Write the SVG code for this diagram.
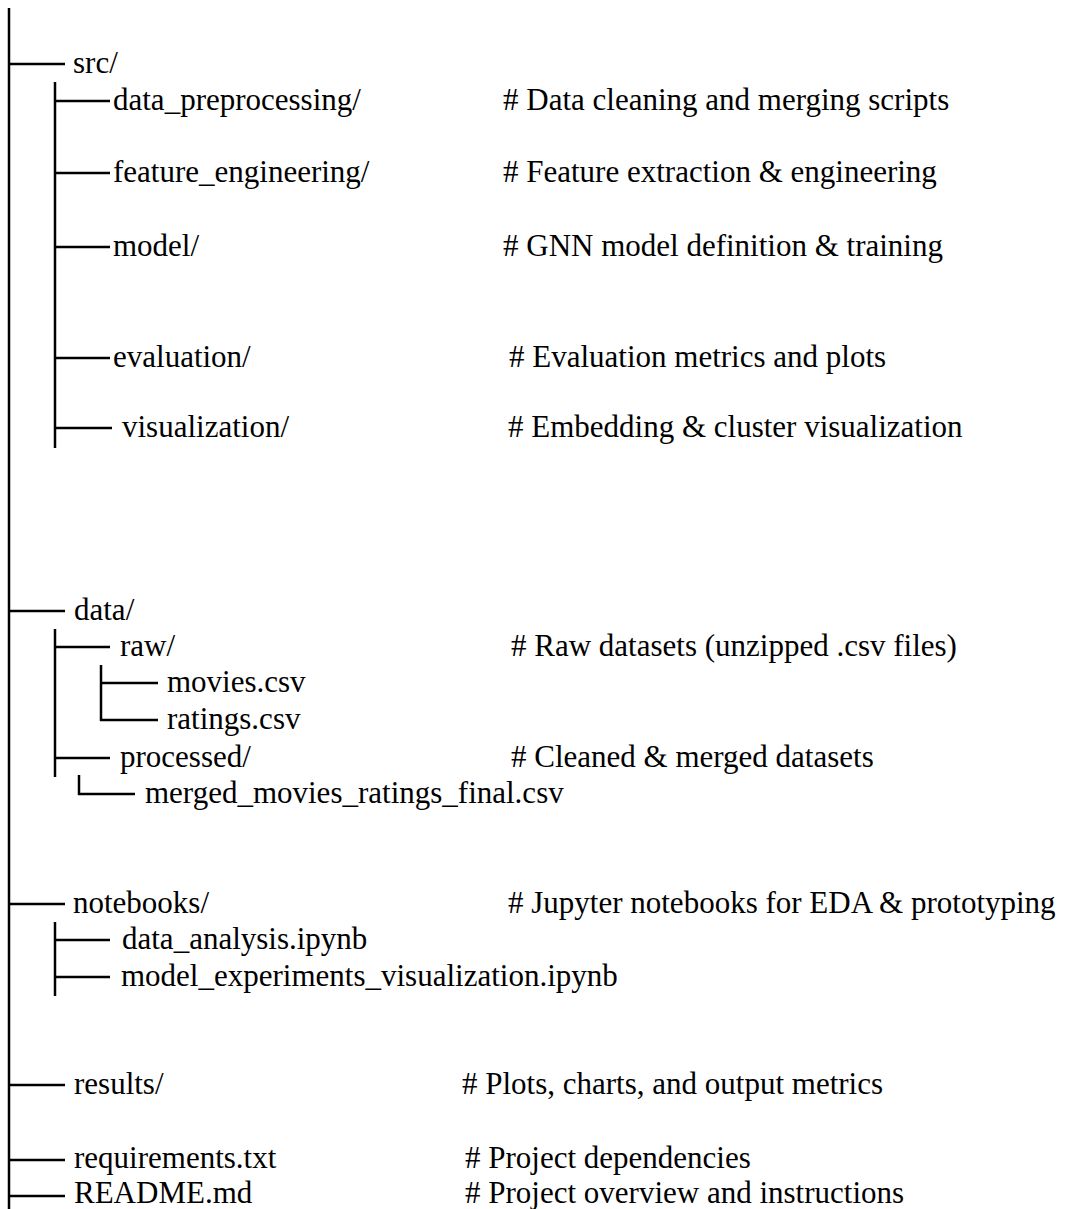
<svg xmlns="http://www.w3.org/2000/svg" width="1082" height="1209" viewBox="0 0 1082 1209">
<style>
.t text{font-size:31px;fill:#000}
.c line{stroke:#000;stroke-width:2.5}
</style>
<rect width="1082" height="1209" fill="#fff"/>
<g id="connectors" class="c">
<line x1="9" y1="8" x2="9" y2="1209"/>
<line x1="9" y1="64" x2="65" y2="64"/>
<line x1="55" y1="82" x2="55" y2="448"/>
<line x1="55" y1="101" x2="110" y2="101"/>
<line x1="55" y1="173" x2="110" y2="173"/>
<line x1="55" y1="247" x2="110" y2="247"/>
<line x1="55" y1="358" x2="110" y2="358"/>
<line x1="55" y1="428" x2="112" y2="428"/>
<line x1="9" y1="611" x2="65" y2="611"/>
<line x1="55" y1="629" x2="55" y2="777"/>
<line x1="55" y1="647" x2="110" y2="647"/>
<line x1="101" y1="665" x2="101" y2="721"/>
<line x1="101" y1="683" x2="158" y2="683"/>
<line x1="100" y1="720" x2="158" y2="720"/>
<line x1="55" y1="758" x2="110" y2="758"/>
<line x1="79" y1="775" x2="79" y2="795"/>
<line x1="78" y1="794" x2="135" y2="794"/>
<line x1="9" y1="904" x2="65" y2="904"/>
<line x1="55" y1="922" x2="55" y2="996"/>
<line x1="55" y1="940" x2="110" y2="940"/>
<line x1="55" y1="977" x2="110" y2="977"/>
<line x1="9" y1="1085" x2="65" y2="1085"/>
<line x1="9" y1="1160" x2="65" y2="1160"/>
<line x1="9" y1="1196" x2="65" y2="1196"/>
</g>
<g class="t" font-family="'Liberation Serif', 'DejaVu Serif', serif">
<g id="src"><text x="73" y="73">src/</text></g>
<g id="data_preprocessing"><text x="113" y="110">data_preprocessing/</text><text x="503" y="110"># Data cleaning and merging scripts</text></g>
<g id="feature_engineering"><text x="113" y="182">feature_engineering/</text><text x="503" y="182"># Feature extraction &amp; engineering</text></g>
<g id="model"><text x="113" y="256">model/</text><text x="503" y="256"># GNN model definition &amp; training</text></g>
<g id="evaluation"><text x="113" y="367">evaluation/</text><text x="509" y="367"># Evaluation metrics and plots</text></g>
<g id="visualization"><text x="122" y="437">visualization/</text><text x="508" y="437"># Embedding &amp; cluster visualization</text></g>
<g id="data"><text x="74" y="620">data/</text></g>
<g id="raw"><text x="120" y="656">raw/</text><text x="511" y="656"># Raw datasets (unzipped .csv files)</text></g>
<g id="movies"><text x="167" y="692">movies.csv</text></g>
<g id="ratings"><text x="167" y="729">ratings.csv</text></g>
<g id="processed"><text x="120" y="767">processed/</text><text x="511" y="767"># Cleaned &amp; merged datasets</text></g>
<g id="merged"><text x="145" y="803">merged_movies_ratings_final.csv</text></g>
<g id="notebooks"><text x="73" y="913">notebooks/</text><text x="508" y="913"># Jupyter notebooks for EDA &amp; prototyping</text></g>
<g id="data_analysis"><text x="122" y="949">data_analysis.ipynb</text></g>
<g id="model_experiments"><text x="121" y="986">model_experiments_visualization.ipynb</text></g>
<g id="results"><text x="74" y="1094">results/</text><text x="462" y="1094"># Plots, charts, and output metrics</text></g>
<g id="requirements"><text x="74" y="1168">requirements.txt</text><text x="465" y="1168"># Project dependencies</text></g>
<g id="readme"><text x="74" y="1203">README.md</text><text x="465" y="1203"># Project overview and instructions</text></g>
</g>
</svg>
